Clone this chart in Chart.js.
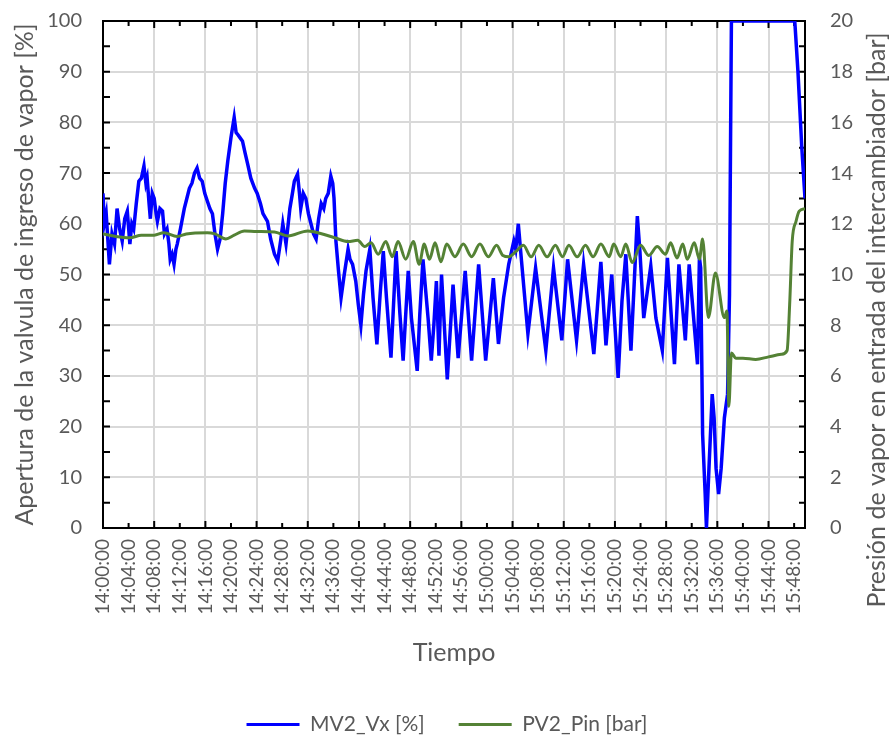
<!DOCTYPE html>
<html>
<head>
<meta charset="utf-8">
<script src="https://cdn.jsdelivr.net/npm/chart.js@4.4.1/dist/chart.umd.min.js"></script>
<style>
  html, body { margin: 0; padding: 0; background: #fff; }
  #wrap { width: 894px; height: 737px; }
</style>
</head>
<body>
<div id="wrap"><canvas id="chart"></canvas></div>
<script>
// tiempo en minutos desde las 14:00:00
const mvTime = [
  0.0, 0.2, 0.5, 1.0, 1.4, 1.8, 2.2, 2.6, 3.0, 3.4, 3.8, 4.2, 4.5, 4.8, 5.2, 5.6, 6.0, 6.4, 6.7, 6.9,
  7.2, 7.4, 7.7, 8.0, 8.3, 8.5, 8.9, 9.3, 9.6, 10.0, 10.3, 10.5, 10.8, 11.1, 11.4, 11.6, 12.1, 12.4, 12.7, 13.1,
  13.5, 13.9, 14.3, 14.7, 15.1, 15.5, 15.9, 16.3, 16.7, 17.1, 17.5, 17.9, 18.3, 18.7, 19.1, 19.5, 20.0, 20.5, 20.8, 21.0,
  21.4, 21.8, 22.2, 22.6, 23.1, 23.7, 24.1, 24.6, 25.0, 25.7, 26.2, 26.8, 27.3, 27.8, 28.1, 28.6, 29.2, 29.6, 29.9, 30.4,
  30.7, 30.9, 31.3, 31.7, 32.1, 32.5, 32.9, 33.3, 33.7, 34.1, 34.5, 34.8, 35.2, 35.6, 35.9, 36.1, 36.4, 36.8, 37.2, 37.7,
  38.3, 38.6, 39.0, 39.5, 39.9, 40.3, 40.7, 41.1, 41.7, 42.2, 42.8, 43.3, 43.8, 44.3, 45.0, 45.4, 45.8, 46.4, 46.9, 47.3,
  47.7, 48.2, 49.1, 49.5, 50.0, 50.8, 51.3, 51.7, 52.1, 52.5, 52.9, 53.8, 54.7, 55.5, 56.6, 57.6, 58.7, 59.8, 61.0, 61.8,
  62.6, 63.4, 64.2, 64.5, 64.9, 65.4, 66.4, 67.6, 69.2, 70.4, 71.7, 72.6, 74.0, 75.1, 76.7, 77.8, 78.6, 79.5, 80.5, 81.1,
  81.7, 82.5, 83.0, 83.5, 83.9, 84.5, 85.6, 86.4, 87.4, 88.2, 89.3, 90.0, 91.0, 91.6, 92.9, 93.2, 93.4, 93.7, 94.1, 94.3,
  94.7, 95.2, 95.5, 95.8, 96.2, 96.6, 97.1, 97.6, 97.9, 98.0, 98.2, 108.1, 108.6, 109.2, 109.7
]
const mvValue = [
  66, 60, 62, 52, 58, 56, 63, 59, 56.6, 61, 62.5, 56, 60, 59, 64, 68.4, 69, 71.4, 68, 69,
  64, 61, 66, 65, 62, 60.5, 63, 62.5, 58, 59, 56, 53, 54, 52, 55, 56, 59, 61, 63, 65,
  67, 68, 70, 71, 69, 68.4, 66, 64.5, 63, 62, 58, 55, 57, 62, 68, 72.4, 77, 81, 78, 77.7,
  77, 76.3, 74, 71.8, 69, 67, 66, 64, 62, 60.5, 57, 54, 52.7, 57, 60, 56, 63, 66, 68.4, 69.8,
  66, 63, 66, 65, 62, 60, 58, 57, 61, 64, 63, 65, 66, 69.4, 68, 65, 56.6, 50.7, 45.4, 50,
  55, 53, 52, 48.7, 44, 40, 46, 50.7, 55, 45.4, 36.2, 46, 54.6, 45.4, 33.6, 44, 54.6, 42.2, 33, 42,
  50.7, 41.4, 31, 42, 53, 41.4, 33, 40, 48.7, 34, 50, 29.3, 48, 33.5, 50.7, 33, 52, 33, 49.3, 36.3,
  45.4, 52, 56.6, 55, 60, 52.7, 38.3, 51.3, 35, 51.3, 37, 53, 37, 52, 34.3, 52.5, 36, 50, 29.6, 44.8,
  54, 35, 48, 61.5, 54.6, 41.4, 51.7, 41.4, 35, 53.3, 32.3, 52, 37, 52, 32.3, 53.3, 51.3, 18.5, 6.7, 0,
  12, 26.4, 21.7, 11.8, 6.7, 11.8, 21.7, 26.4, 46, 64.5, 100, 100, 90, 75, 65
]
const pvTime = [
  0, 2, 4.2, 6, 8, 9.5, 11.6, 13, 16.3, 17.5, 19.2, 20.5, 22.1, 24, 26.8, 28.9, 32, 34, 36.2, 38.3,
  39.8, 40.9, 41.9, 43.0, 44.2, 45.2, 46.1, 47.3, 48.5, 49.4, 50.2, 51.0, 51.9, 52.8, 53.7, 55.0, 56.3, 57.6, 58.9, 60.2,
  61.5, 62.5, 63.4, 64.5, 65.7, 66.9, 68.1, 69.4, 70.7, 71.8, 72.8, 74.1, 75.4, 76.6, 77.8, 79.1, 79.8, 80.9, 81.7, 82.7,
  84.0, 85.3, 86.6, 87.9, 88.7, 89.7, 90.6, 91.3, 92.4, 93.2, 93.7, 94.6, 95.7, 97.1, 97.5, 97.8, 98.2, 98.9, 100, 102,
  104, 106, 106.9, 107.3, 107.7, 108.3, 108.8, 109.7
]
const pvValue = [
  11.6, 11.5, 11.45, 11.55, 11.55, 11.65, 11.5, 11.6, 11.65, 11.6, 11.4, 11.55, 11.72, 11.7, 11.68, 11.52, 11.72, 11.62, 11.45, 11.3,
  11.35, 11.1, 11.25, 10.8, 11.3, 10.7, 11.3, 10.6, 11.3, 10.4, 11.2, 10.6, 11.25, 10.5, 11.2, 10.7, 11.2, 10.7, 11.2, 10.7,
  11.15, 10.75, 10.7, 10.9, 11.15, 10.7, 11.15, 10.7, 11.15, 10.7, 11.15, 10.7, 11.15, 10.7, 11.2, 10.7, 11.2, 10.7, 11.2, 10.47,
  11.15, 10.75, 11.1, 10.8, 11.25, 10.65, 11.2, 10.6, 11.25, 10.6, 11.4, 8.3, 10.06, 8.3, 8.56, 4.8, 6.9, 6.7, 6.7, 6.65,
  6.75, 6.85, 7.0, 8.8, 11.3, 12.1, 12.5, 12.6
]
const seriesNames = ["MV2_Vx [%]", "PV2_Pin [bar]"]
const xMax = 109.7

const timeLabel = (m) => {
  const h = 14 + Math.floor(m / 60)
  return h + ":" + String(m % 60).padStart(2, "0") + ":00"
}

const pairs = (ts, vs) => ts.map((t, i) => ({ x: t, y: vs[i] }))

Chart.defaults.font.family = "Lato"
Chart.defaults.color = "#595959"

const clear = "rgba(0,0,0,0)"
const gridGray = "#d9d9d9"

// ancho fijo del eje y sin el relleno extra arriba/abajo
const fixY = (w) => (s) => {
  s.width = w
  s.paddingTop = 0
  s.paddingBottom = 0
}

const frame = {
  id: "frame",
  beforeDatasetsDraw(chart) {
    const { ctx, chartArea: a, scales } = chart
    ctx.save()
    ctx.strokeStyle = "#000"
    ctx.lineWidth = 2
    ctx.strokeRect(a.left, a.top, a.right - a.left, a.bottom - a.top)
    ctx.beginPath()
    for (let v = 5; v < 100; v += 5) {
      const y = scales.y.getPixelForValue(v)
      ctx.moveTo(a.left, y)
      ctx.lineTo(a.left + 7, y)
    }
    for (let b = 1; b < 20; b += 1) {
      const y = scales.y2.getPixelForValue(b)
      ctx.moveTo(a.right, y)
      ctx.lineTo(a.right - 6, y)
    }
    for (let t = 4; t < xMax; t += 4) {
      const x = scales.x.getPixelForValue(t)
      const len = t % 8 === 0 ? 7 : 5
      ctx.moveTo(x, a.top)
      ctx.lineTo(x, a.top + len)
      ctx.moveTo(x, a.bottom)
      ctx.lineTo(x, a.bottom - len)
    }
    ctx.stroke()
    ctx.restore()
  },
  afterDraw(chart) {
    // titulo del eje derecho, se lee de abajo hacia arriba
    const { ctx } = chart
    ctx.save()
    ctx.font = "25px Lato"
    ctx.fillStyle = "#595959"
    ctx.textAlign = "center"
    ctx.textBaseline = "middle"
    ctx.translate(877, 320)
    ctx.rotate(-Math.PI / 2)
    ctx.fillText("Presión de vapor en entrada del intercambiador [bar]", 0, 0)
    ctx.restore()
  },
}

new Chart(document.getElementById("chart"), {
  type: "line",
  data: {
    datasets: [
      {
        label: seriesNames[0],
        data: pairs(mvTime, mvValue),
        borderColor: "#0000ff",
        backgroundColor: "#0000ff",
        borderWidth: 3.5,
        pointRadius: 0,
        yAxisID: "y",
        order: 1,
      },
      {
        label: seriesNames[1],
        data: pairs(pvTime, pvValue),
        borderColor: "#548235",
        backgroundColor: "#548235",
        borderWidth: 3,
        pointRadius: 0,
        cubicInterpolationMode: "monotone",
        yAxisID: "y2",
        order: 0,
      },
    ],
  },
  options: {
    responsive: true,
    maintainAspectRatio: false,
    animation: false,
    layout: { padding: { top: 21, bottom: -8, left: 0, right: 0 } },
    plugins: {
      tooltip: { enabled: false },
      legend: {
        position: "bottom",
        labels: {
          font: { size: 21 },
          color: "#595959",
          boxWidth: 53,
          boxHeight: 3,
          padding: 34,
          generateLabels: (chart) =>
            Chart.defaults.plugins.legend.labels
              .generateLabels(chart)
              .map((l) => ({ ...l, lineWidth: 0 }))
              .sort((a, b) => a.datasetIndex - b.datasetIndex),
        },
      },
    },
    scales: {
      x: {
        type: "linear",
        min: 0,
        max: xMax,
        afterFit: (s) => { s.height = 152 },
        border: { display: false },
        grid: {
          drawTicks: false,
          lineWidth: 2,
          color: (c) => (c.tick && c.tick.value > 0 && c.tick.value % 8 === 0 ? gridGray : clear),
        },
        ticks: {
          stepSize: 4,
          includeBounds: false,
          autoSkip: false,
          minRotation: 90,
          maxRotation: 90,
          padding: 11,
          font: { size: 19 },
          callback: (v) => timeLabel(v),
        },
        title: {
          display: true,
          text: "Tiempo",
          font: { size: 25 },
          padding: { top: 0, bottom: 12 },
        },
      },
      y: {
        position: "left",
        min: 0,
        max: 100,
        afterFit: fixY(103),
        border: { display: false },
        grid: {
          drawTicks: false,
          lineWidth: 2,
          color: (c) => (c.tick && c.tick.value > 0 && c.tick.value < 100 ? gridGray : clear),
        },
        ticks: { stepSize: 10, padding: 21, font: { size: 20 } },
        title: {
          display: true,
          text: "Apertura de la valvula de ingreso de vapor [%]",
          font: { size: 25 },
          padding: { top: 10, bottom: 0 },
        },
      },
      y2: {
        position: "right",
        min: 0,
        max: 20,
        afterFit: fixY(89),
        border: { display: false },
        grid: { display: false, drawOnChartArea: false },
        ticks: { stepSize: 2, padding: 17, font: { size: 20 } },
      },
    },
  },
  plugins: [frame],
})
</script>
</body>
</html>
